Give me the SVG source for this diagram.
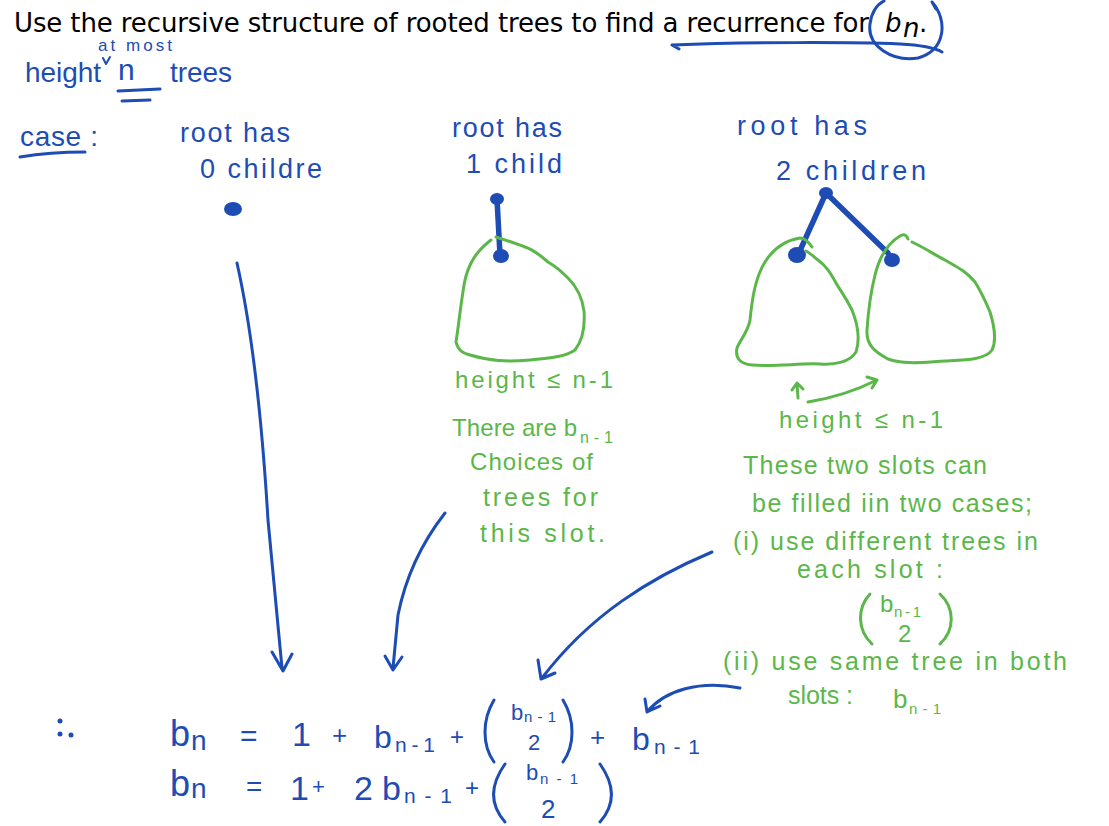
<svg xmlns="http://www.w3.org/2000/svg" width="1109" height="826" viewBox="0 0 1109 826">
<style>
.title{font-family:"DejaVu Sans","Liberation Sans",sans-serif;font-size:26px;fill:#000;}
.b{fill:#1d4cb5;font-family:"Liberation Sans","DejaVu Sans",sans-serif;}
.g{fill:#5bb749;font-family:"Liberation Sans","DejaVu Sans",sans-serif;}
.bl{fill:none;stroke:#1d4cb5;stroke-width:3;stroke-linecap:round;stroke-linejoin:round;}
.gl{fill:none;stroke:#5bb749;stroke-width:3;stroke-linecap:round;stroke-linejoin:round;}
.thick{stroke-width:5.5;}
.thin{stroke-width:2;}
</style>
<rect width="1109" height="826" fill="#fff"/>

<g id="title">
<text class="title" x="14" y="32" textLength="855">Use the recursive structure of rooted trees to find a recurrence for</text>
<text class="title" x="885" y="32" font-style="italic">b</text>
<text class="title" x="903" y="37" font-size="17" font-style="italic">n</text>
<text class="title" x="919" y="32">.</text>
<path class="bl" d="M672,45 C750,42 850,42 900,44 C920,45 935,48 942,52 M672,45 L679,49"/>
<path class="bl" d="M932,2 C948,20 946,50 918,58 C892,62 867,46 870,24 C872,10 878,4 884,1 M932,2 L936,9"/>
</g>

<g id="header">
<text class="b" x="98" y="51" font-size="17" textLength="74">at most</text>
<path class="bl thin" d="M103,58 L106,64 L110,57"/>
<text class="b" x="25" y="82" font-size="28" textLength="76">height</text>
<text class="b" x="118" y="80" font-size="30" textLength="28">n</text>
<path class="bl" d="M118,91 L160,89 M122,101 L150,100"/>
<text class="b" x="170" y="82" font-size="28" textLength="62">trees</text>
<text class="b" x="20" y="146" font-size="28" textLength="78">case :</text>
<path class="bl" d="M20,157 Q50,152 85,152"/>
</g>

<g id="case0">
<text class="b" x="180" y="142" font-size="27" textLength="110">root has</text>
<text class="b" x="200" y="178" font-size="27" textLength="122">0 childre</text>
<ellipse cx="233" cy="209" rx="9" ry="7" fill="#1d4cb5"/>
</g>

<g id="case1">
<text class="b" x="452" y="137" font-size="27" textLength="110">root has</text>
<text class="b" x="466" y="173" font-size="27" textLength="96">1 child</text>
<path class="bl thick" d="M497,199 L500,255"/>
<ellipse cx="497" cy="199" rx="7" ry="6" fill="#1d4cb5"/>
<ellipse cx="501" cy="256" rx="8" ry="7" fill="#1d4cb5"/>
<path class="gl" d="M491,240 C478,250 468,262 464,285 C460,310 458,330 456,342 C458,350 462,353 470,355 C490,361 506,362 530,360 C550,358 565,357 575,350 C583,340 585,325 584,311 C582,295 575,285 568,278 C560,270 555,266 548,262 C540,255 532,249 525,247 C515,243 505,240 496,237"/>
<text class="g" x="455" y="388" font-size="24" textLength="158">height ≤ n-1</text>
<text class="g" x="452" y="436" font-size="24" textLength="125">There are b</text>
<text class="g" x="580" y="443" font-size="16" textLength="33">n-1</text>
<text class="g" x="470" y="470" font-size="24" textLength="123">Choices of</text>
<text class="g" x="483" y="506" font-size="25" textLength="115">trees for</text>
<text class="g" x="480" y="542" font-size="25" textLength="125">this slot.</text>
</g>

<g id="case2">
<text class="b" x="737" y="135" font-size="27" textLength="130">root has</text>
<text class="b" x="776" y="180" font-size="27" textLength="150">2 children</text>
<path class="bl thick" d="M826,193 L798,255 M826,193 L888,253"/>
<ellipse cx="826" cy="193" rx="7" ry="6" fill="#1d4cb5"/>
<ellipse cx="797" cy="255" rx="9" ry="8" fill="#1d4cb5"/>
<ellipse cx="892" cy="260" rx="8" ry="7" fill="#1d4cb5"/>
<path class="gl" d="M812,247 C808,241 804,238 800,238 C788,240 775,246 765,262 C755,278 752,300 750,320 C748,332 740,340 737,348 C735,358 740,364 752,365 C775,367 800,363 820,364 C835,365 850,362 856,352 C860,340 858,325 852,310 C845,296 840,290 836,283 C830,272 826,266 818,260 C812,255 810,253 806,251"/>
<path class="gl" d="M908,239 C906,234 903,234 900,236 C890,242 880,255 875,275 C870,295 868,315 867,330 C866,345 875,352 888,359 C905,365 925,362 945,361 C965,360 985,360 992,350 C997,340 994,325 990,312 C985,300 980,290 975,282 C965,270 955,266 945,260 C935,255 925,248 912,242"/>
<path class="gl" d="M798,398 L797,384 M792,390 L797,383 L803,389"/>
<path class="gl" d="M808,402 Q845,396 877,380 M867,377 L877,380 L872,388"/>
<text class="g" x="779" y="428" font-size="24" textLength="164">height ≤ n-1</text>
<text class="g" x="743" y="474" font-size="25" textLength="244">These two slots can</text>
<text class="g" x="752" y="512" font-size="25" textLength="280">be filled iin two cases;</text>
<text class="g" x="733" y="550" font-size="25" textLength="305">(i)  use different trees in</text>
<text class="g" x="797" y="578" font-size="25" textLength="146">each slot :</text>
<path class="gl" d="M870,594 C857,608 857,630 872,644 M940,594 C955,608 955,630 940,644"/>
<text class="g" x="880" y="612" font-size="24">b</text>
<text class="g" x="894" y="617" font-size="15" textLength="27">n-1</text>
<text class="g" x="898" y="642" font-size="24">2</text>
<text class="g" x="723" y="670" font-size="25" textLength="344">(ii)  use same tree in both</text>
<text class="g" x="788" y="704" font-size="25" textLength="65">slots :</text>
<text class="g" x="893" y="708" font-size="26">b</text>
<text class="g" x="909" y="714" font-size="15" textLength="32">n-1</text>
</g>

<g id="equation">
<circle cx="60" cy="721" r="2.5" fill="#1d4cb5"/>
<circle cx="60" cy="734" r="2.5" fill="#1d4cb5"/>
<circle cx="71" cy="735" r="2.5" fill="#1d4cb5"/>
<text class="b" x="170" y="746" font-size="36">b</text>
<text class="b" x="191" y="750" font-size="28">n</text>
<text class="b" x="240" y="746" font-size="30">=</text>
<text class="b" x="292" y="746" font-size="34">1</text>
<text class="b" x="332" y="744" font-size="26">+</text>
<text class="b" x="374" y="748" font-size="32">b</text>
<text class="b" x="395" y="752" font-size="21" textLength="40">n-1</text>
<text class="b" x="450" y="745" font-size="24">+</text>
<path class="bl" d="M494,700 C482,720 482,745 494,762 M563,700 C575,720 575,745 563,762"/>
<text class="b" x="511" y="720" font-size="22">b</text>
<text class="b" x="524" y="722" font-size="15" textLength="32">n-1</text>
<text class="b" x="528" y="750" font-size="22">2</text>
<text class="b" x="590" y="746" font-size="26">+</text>
<text class="b" x="632" y="750" font-size="32">b</text>
<text class="b" x="654" y="754" font-size="21" textLength="46">n-1</text>

<text class="b" x="170" y="796" font-size="36">b</text>
<text class="b" x="191" y="798" font-size="28">n</text>
<text class="b" x="246" y="796" font-size="28">=</text>
<text class="b" x="290" y="800" font-size="34">1</text>
<text class="b" x="312" y="794" font-size="22">+</text>
<text class="b" x="354" y="800" font-size="34">2</text>
<text class="b" x="382" y="800" font-size="34">b</text>
<text class="b" x="404" y="803" font-size="21" textLength="48">n-1</text>
<text class="b" x="465" y="796" font-size="24">+</text>
<path class="bl" d="M505,764 C490,785 490,805 505,822 M600,764 C615,785 615,805 600,822"/>
<text class="b" x="526" y="780" font-size="22">b</text>
<text class="b" x="540" y="784" font-size="15" textLength="38">n-1</text>
<text class="b" x="541" y="818" font-size="26">2</text>
</g>

<g id="connectors">
<path class="bl" d="M237,263 C252,330 262,420 268,520 L282,668 M272,652 L283,671 L292,654"/>
<path class="bl" d="M445,513 C420,545 405,580 398,615 L393,668 M385,656 L393,670 L402,657"/>
<path class="bl" d="M712,552 C650,578 590,615 542,678 M538,660 L541,679 L555,673"/>
<path class="bl" d="M740,688 C700,680 665,690 647,712 M645,699 L647,712 L660,706"/>
</g>
</svg>
